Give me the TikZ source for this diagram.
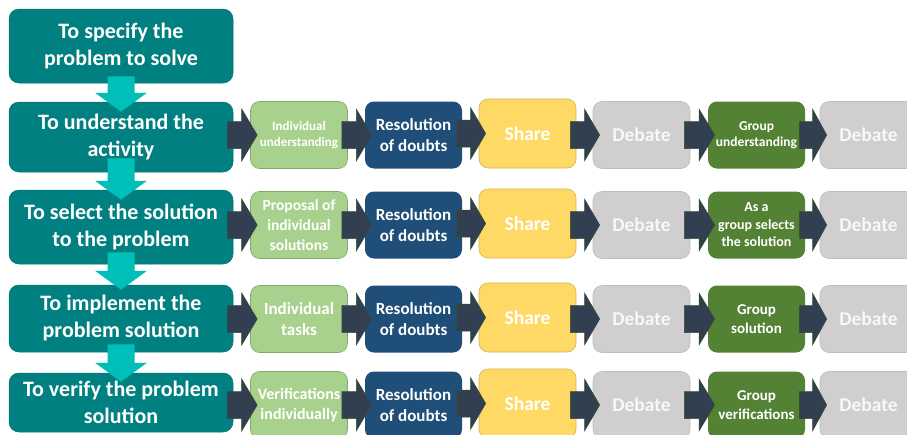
\documentclass[tikz,border=0pt]{standalone}
\usepackage{fontspec}
\setmainfont{Carlito}
\usetikzlibrary{calc}
\definecolor{tealbox}{RGB}{0,128,128}
\definecolor{tealedge}{RGB}{0,112,112}
\definecolor{turq}{RGB}{0,191,184}
\definecolor{darkarr}{RGB}{50,63,80}
\definecolor{darkarredge}{RGB}{52,80,50}
\definecolor{lgreen}{RGB}{169,209,142}
\definecolor{lgreenedge}{RGB}{130,170,105}
\definecolor{dblue}{RGB}{31,78,121}
\definecolor{yel}{RGB}{255,217,102}
\definecolor{yeledge}{RGB}{214,178,80}
\definecolor{gry}{RGB}{208,206,206}
\definecolor{gryedge}{RGB}{190,190,190}
\definecolor{grytext}{RGB}{248,248,248}
\definecolor{dgreen}{RGB}{84,130,53}
\newcommand\flowarr[2]{%
  \coordinate (fa-s) at ($(#1.east |- #2.west)+(-6,0)$);
  \coordinate (fa-m) at ($(#1.east |- #2.west)!.5!(#2.west)$);
  \coordinate (fa-t) at ($(#2.west)+(7,0)$);
  \filldraw[flowarrow] ($(fa-s)+(0,-13.5)$) -- ($(fa-m)+(0,-13.5)$) -- ($(fa-m)+(0,-26)$) -- (fa-t)
    -- ($(fa-m)+(0,26)$) -- ($(fa-m)+(0,13.5)$) -- ($(fa-s)+(0,13.5)$) -- cycle;}
\newcommand\tealarr[4]{%
  \coordinate (ta-s) at ($(#1.south)+(0,-#3)$);
  \coordinate (ta-t) at ($(#2.north)+(0,#4)$);
  \coordinate (ta-m) at ($(ta-t)+(0,-19)$);
  \fill[tealarrow] ($(ta-s)+(-13.5,0)$) -- ($(ta-m)+(-13.5,0)$) -- ($(ta-m)+(-26,0)$) -- (ta-t)
    -- ($(ta-m)+(26,0)$) -- ($(ta-m)+(13.5,0)$) -- ($(ta-s)+(13.5,0)$) -- cycle;}
\begin{document}
\begin{tikzpicture}[x=1pt,y=-1pt,
  stage/.style={rounded corners=10pt, fill=tealbox, draw=tealedge, line width=0.5pt, text=white,
    align=center, minimum width=224pt, inner sep=0pt, font=\fontsize{22}{27}\selectfont\bfseries},
  box/.style={rounded corners=9pt, minimum width=97pt, minimum height=67pt, inner sep=0pt,
    align=center, text=white, line width=0.6pt},
  indiv/.style={box, fill=lgreen, draw=lgreenedge},
  resol/.style={box, fill=dblue, font=\fontsize{17}{21}\selectfont\bfseries},
  share/.style={box, fill=yel, draw=yeledge, font=\fontsize{19.5}{24}\selectfont\bfseries},
  debate/.style={box, fill=gry, draw=gryedge, text=grytext, font=\fontsize{19.5}{24}\selectfont\bfseries},
  group/.style={box, fill=dgreen},
  flowarrow/.style={fill=darkarr, draw=darkarredge, line width=0.5pt},
  tealarrow/.style={fill=turq}]
\path[use as bounding box, clip] (0,0) rectangle (907,434);
\fill[white] (0,0) rectangle (907,434);
% left stages
\node[stage, minimum height=74pt] (spec) at (121,46) {To specify the\\problem to solve};
\node[stage, minimum height=70pt] (und) at (121,137) {To understand the\\activity};
\node[stage, minimum height=74pt] (sel) at (121,227) {To select the solution\\to the problem};
\node[stage, minimum height=67pt] (imp) at (121,318.5) {To implement the\\problem solution};
\node[stage, minimum height=59pt] (ver) at (121,402.5) {To verify the problem\\solution};
% row 2
\node[indiv, font=\fontsize{13}{16}\selectfont\bfseries] (a1) at (299,135) {Individual\\understanding};
\node[resol] (b1) at (413.5,135) {Resolution\\of doubts};
\node[share, minimum height=69pt] (c1) at (527.5,133.5) {Share};
\node[debate] (d1) at (641.5,135) {Debate};
\node[group, font=\fontsize{13.5}{16.5}\selectfont\bfseries] (e1) at (756.5,135) {Group\\understanding};
\node[debate] (f1) at (868.5,135) {Debate};
% row 3
\node[indiv, font=\fontsize{15.5}{20}\selectfont\bfseries] (a2) at (299,225) {Proposal of\\individual\\solutions};
\node[resol] (b2) at (413.5,225) {Resolution\\of doubts};
\node[share, minimum height=69pt] (c2) at (527.5,223.5) {Share};
\node[debate] (d2) at (641.5,225) {Debate};
\node[group, font=\fontsize{14}{17.5}\selectfont\bfseries] (e2) at (756.5,225) {As a\\group selects\\the solution};
\node[debate] (f2) at (868.5,225) {Debate};
% row 4
\node[indiv, font=\fontsize{17}{21}\selectfont\bfseries] (a3) at (299,319) {Individual\\tasks};
\node[resol] (b3) at (413.5,319) {Resolution\\of doubts};
\node[share, minimum height=69pt] (c3) at (527.5,317.5) {Share};
\node[debate] (d3) at (641.5,319) {Debate};
\node[group, font=\fontsize{15}{19}\selectfont\bfseries] (e3) at (756.5,319) {Group\\solution};
\node[debate] (f3) at (868.5,319) {Debate};
% row 5
\node[indiv, font=\fontsize{16}{20}\selectfont\bfseries] (a4) at (299,405) {Verifications\\individually};
\node[resol] (b4) at (413.5,405) {Resolution\\of doubts};
\node[share, minimum height=69pt] (c4) at (527.5,403.5) {Share};
\node[debate] (d4) at (641.5,405) {Debate};
\node[group, font=\fontsize{15}{19}\selectfont\bfseries] (e4) at (756.5,405) {Group\\verifications};
\node[debate] (f4) at (868.5,405) {Debate};
% horizontal arrows
\flowarr{und}{a1}\flowarr{a1}{b1}\flowarr{b1}{c1}\flowarr{c1}{d1}\flowarr{d1}{e1}\flowarr{e1}{f1}
\flowarr{sel}{a2}\flowarr{a2}{b2}\flowarr{b2}{c2}\flowarr{c2}{d2}\flowarr{d2}{e2}\flowarr{e2}{f2}
\flowarr{imp}{a3}\flowarr{a3}{b3}\flowarr{b3}{c3}\flowarr{c3}{d3}\flowarr{d3}{e3}\flowarr{e3}{f3}
\flowarr{ver}{a4}\flowarr{a4}{b4}\flowarr{b4}{c4}\flowarr{c4}{d4}\flowarr{d4}{e4}\flowarr{e4}{f4}
% vertical arrows
\tealarr{spec}{und}{7}{10}
\tealarr{und}{sel}{14}{10}
\tealarr{sel}{imp}{12}{5}
\tealarr{imp}{ver}{8}{9}
\end{tikzpicture}
\end{document}
